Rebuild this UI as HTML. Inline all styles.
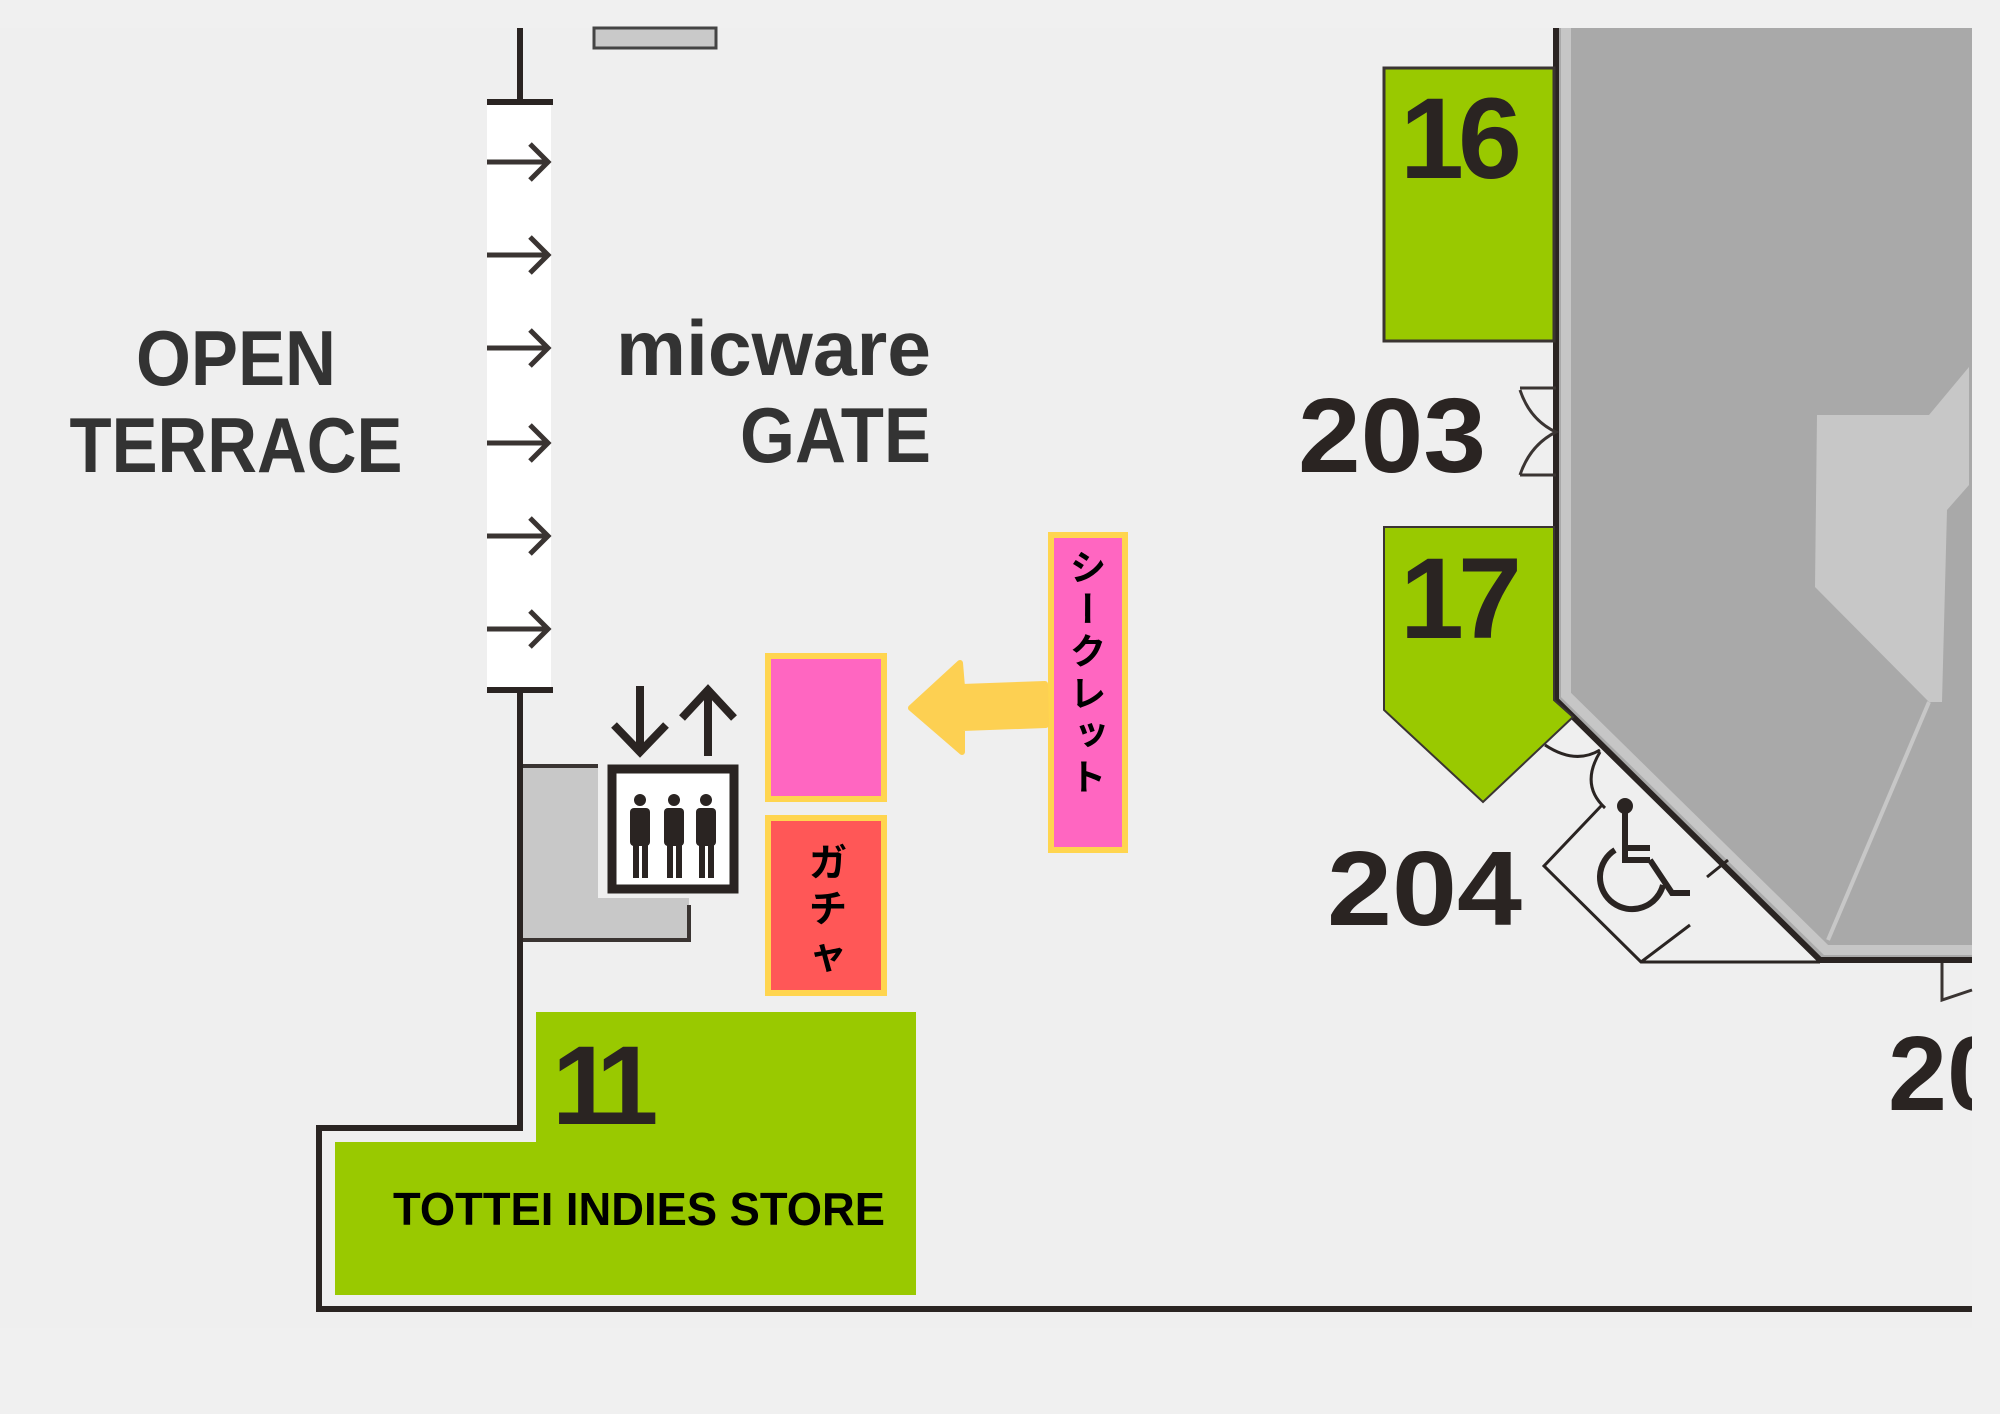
<!DOCTYPE html>
<html><head><meta charset="utf-8"><style>
html,body{margin:0;padding:0;background:#f0f0f0;}
svg{display:block}
text{font-family:"Liberation Sans","Noto Sans CJK JP",sans-serif;font-weight:bold}
.v{position:absolute;left:1051px;top:548px;width:74px;height:300px;writing-mode:vertical-rl;font-family:"Noto Sans CJK JP",sans-serif;font-weight:bold;font-size:37px;line-height:74px;letter-spacing:5px;color:#000;text-align:left}
</style></head><body>
<div style="position:relative;width:2000px;height:1414px">
<svg width="2000" height="1414" viewBox="0 0 2000 1414" xmlns="http://www.w3.org/2000/svg">
<rect width="2000" height="1414" fill="#f0f0f0"/>
<rect x="0" y="28" width="1972" height="1300" fill="#efefef"/>
<rect x="594" y="28" width="122" height="20" fill="#c9c9c9" stroke="#444" stroke-width="3"/>
<rect x="487" y="102" width="64" height="587" fill="#ffffff"/>
<line x1="520" y1="28" x2="520" y2="102" stroke="#2a2422" stroke-width="6"/>
<line x1="487" y1="102" x2="553" y2="102" stroke="#2a2422" stroke-width="6"/>
<line x1="487" y1="690" x2="553" y2="690" stroke="#2a2422" stroke-width="6"/>
<g stroke="#3a3432" stroke-width="5" fill="none">
<path d="M487 162H548M530 144L548 162L530 180"/>
<path d="M487 255H548M530 237L548 255L530 273"/>
<path d="M487 348H548M530 330L548 348L530 366"/>
<path d="M487 443H548M530 425L548 443L530 461"/>
<path d="M487 536H548M530 518L548 536L530 554"/>
<path d="M487 629H548M530 611L548 629L530 647"/>
</g>
<path d="M523 766H598V898H689V940H523Z" fill="#c8c8c8"/>
<path d="M523 766H598M689 905V940H523" stroke="#3a3432" stroke-width="4" fill="none"/>
<path d="M520 690V1128H319V1309H1972" stroke="#2a2422" stroke-width="6" fill="none"/>
<rect x="612" y="769" width="122" height="120" fill="#fff" stroke="#2a2422" stroke-width="9"/>
<g fill="#2a2422">
<circle cx="640" cy="800" r="6"/><rect x="630" y="808" width="20" height="38" rx="4"/><rect x="633" y="844" width="6" height="34"/><rect x="642" y="844" width="6" height="34"/>
<circle cx="674" cy="800" r="6"/><rect x="664" y="808" width="20" height="38" rx="4"/><rect x="667" y="844" width="6" height="34"/><rect x="676" y="844" width="6" height="34"/>
<circle cx="706" cy="800" r="6"/><rect x="696" y="808" width="20" height="38" rx="4"/><rect x="699" y="844" width="6" height="34"/><rect x="708" y="844" width="6" height="34"/>
</g>
<g stroke="#2a2422" stroke-width="8" fill="none">
<path d="M640 686V752M614 725L640 752L666 725"/>
<path d="M708 756V690M682 718L708 690L734 718"/>
</g>
<path d="M536 1012H916V1295H335V1142H536Z" fill="#99c900"/>
<text x="552" y="1124" font-size="112" fill="#2a2422" letter-spacing="-12">11</text>
<text x="393" y="1225" font-size="46" fill="#000" textLength="492" lengthAdjust="spacingAndGlyphs">TOTTEI INDIES STORE</text>
<text x="236" y="385" font-size="78" fill="#333" text-anchor="middle" textLength="200" lengthAdjust="spacingAndGlyphs">OPEN</text>
<text x="236" y="472" font-size="78" fill="#333" text-anchor="middle" textLength="333" lengthAdjust="spacingAndGlyphs">TERRACE</text>
<text x="931" y="375" font-size="78" fill="#333" text-anchor="end" textLength="315" lengthAdjust="spacingAndGlyphs">micware</text>
<text x="931" y="462" font-size="78" fill="#333" text-anchor="end" textLength="191" lengthAdjust="spacingAndGlyphs">GATE</text>
<rect x="768" y="656" width="116" height="143" fill="#ff66c1" stroke="#ffd54f" stroke-width="6"/>
<rect x="768" y="818" width="116" height="175" fill="#ff5757" stroke="#ffd54f" stroke-width="6"/>
<text font-size="38" fill="#000" text-anchor="middle" font-family="Noto Sans CJK JP, sans-serif"><tspan x="828" y="876">ガ</tspan><tspan x="828" y="922">チ</tspan><tspan x="828" y="968">ャ</tspan></text>
<rect x="1051" y="535" width="74" height="315" fill="#ff66c1" stroke="#ffd54f" stroke-width="6"/>
<path d="M911 708L960 663L962 687L1045 684L1046 725L962 728L962 752Z" fill="#fdd052" stroke="#fdd052" stroke-width="6" stroke-linejoin="round"/>
<path d="M1556 28H1972V960H1820L1556 700Z" fill="#a9a9a9"/>
<path d="M1566 28V695L1826 950H1972" stroke="#c6c6c6" stroke-width="10" fill="none"/>
<path d="M1817 415H1929L1969 367V485L1947 510L1942 702H1929L1815 587Z" fill="#c7c7c7"/>
<path d="M1929 702L1828 940" stroke="#c7c7c7" stroke-width="4"/>
<path d="M1556 28V700L1820 960H1972" stroke="#2a2422" stroke-width="6" fill="none"/>
<rect x="1384" y="68" width="170" height="273" fill="#99c900" stroke="#3a3432" stroke-width="3"/>
<text x="1400" y="178" font-size="115" fill="#2a2422" letter-spacing="-6">16</text>
<path d="M1384 527H1554V700L1573 717L1483 802L1384 710Z" fill="#99c900" stroke="#3a3432" stroke-width="2"/>
<text x="1400" y="638" font-size="115" fill="#2a2422" letter-spacing="-6">17</text>
<text x="1298" y="472" font-size="106" fill="#2a2422" textLength="188" lengthAdjust="spacingAndGlyphs">203</text>
<text x="1327" y="925" font-size="106" fill="#2a2422" textLength="195" lengthAdjust="spacingAndGlyphs">204</text>
<text x="1888" y="1110" font-size="106" fill="#2a2422">20</text>
<rect x="1972" y="1000" width="28" height="130" fill="#f0f0f0"/>
<g stroke="#3a3432" stroke-width="3" fill="none">
<path d="M1520 388H1556M1520 475H1556M1520 390Q1530 420 1556 432Q1530 445 1520 475"/>
<path d="M1942 963V1000L1972 990"/>
</g>
<g stroke="#2a2422" stroke-width="3" fill="none">
<path d="M1602 805L1544 866L1641 962H1820"/>
<path d="M1641 962L1690 925M1707 877L1728 860"/>
<path d="M1545 745Q1575 765 1600 750M1600 752Q1580 785 1605 808"/>
</g>
<g stroke="#2a2422" stroke-width="6" fill="none">
<circle cx="1625" cy="806" r="5" fill="#2a2422"/>
<path d="M1625 810V860H1650M1625 848H1650M1650 860L1672 893H1690"/>
<path d="M1615 850A32 32 0 1 0 1663 885"/>
</g>
</svg>
<div class="v">シークレット</div>
</div>
</body></html>
